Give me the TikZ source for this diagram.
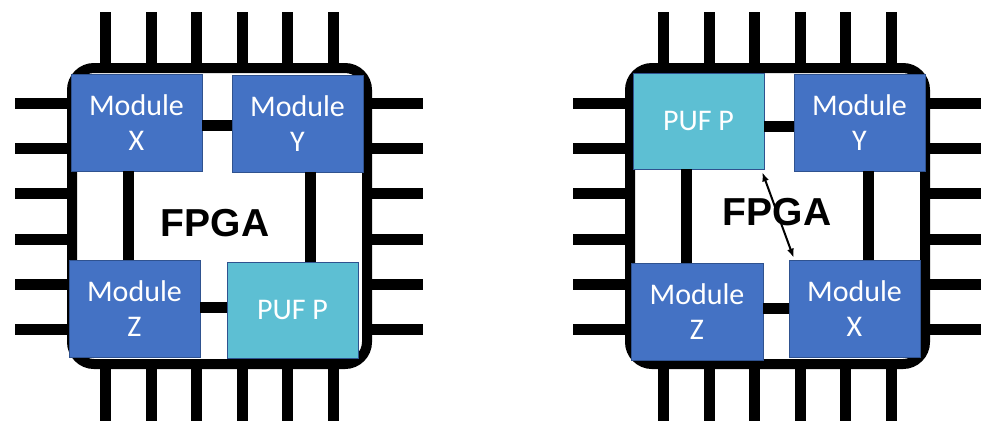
\documentclass[tikz,border=0pt]{standalone}
\usepackage{fontspec}
\newfontfamily\modfont{Carlito}
\newfontfamily\titlefont{Liberation Sans}
\usetikzlibrary{arrows.meta}
\definecolor{modblue}{HTML}{4472C4}
\definecolor{modedge}{HTML}{2F528F}
\definecolor{pufcyan}{HTML}{5DBFD3}
\begin{document}
\begin{tikzpicture}[x=1pt,y=-1pt,
  pin/.style={line width=11pt},
  chip/.style={line width=10pt, rounded corners=22pt, fill=white},
  wire/.style={line width=11pt},
  modbox/.style={draw=modedge, line width=0.8pt, fill=modblue, text=white,
    font=\modfont\fontsize{30}{35}\selectfont, align=center, inner sep=0pt,
    minimum width=131pt, minimum height=97pt},
  pufbox/.style={modbox, fill=pufcyan},
  title/.style={font=\titlefont\bfseries\fontsize{39}{39}\selectfont},
  link/.style={line width=2pt, {Latex[length=9pt,width=7pt]}-{Latex[length=9pt,width=7pt]}}]
\useasboundingbox (0,0) rectangle (982,421);
% pins and chip bodies
\foreach \o in {0,558} {
  \foreach \p in {105,151,196,242,287,333} {
    \draw[pin] (\p+\o,12) -- (\p+\o,421);
  }
  \foreach \q in {103.5,148.5,193.5,239.5,284.5,329.5} {
    \draw[pin] (15+\o,\q) -- (423+\o,\q);
  }
  \draw[chip] (72+\o,68) rectangle (367+\o,364);
}
% titles
\node[title] (fpgaL) at (215,223) {FPGA};
\node[title] (fpgaR) at (777,212) {FPGA};
% left chip modules
\node[modbox] (LX) at (136.5,122.5) {Module\\X};
\node[modbox] (LY) at (297.5,123.5) {Module\\Y};
\node[modbox] (LZ) at (134.5,308.5) {Module\\Z};
\node[pufbox, minimum height=96pt] (LP) at (292.5,310) {PUF P};
% right chip modules
\node[pufbox, minimum height=96pt] (RP) at (698.5,121) {PUF P};
\node[modbox] (RY) at (859.5,122.5) {Module\\Y};
\node[modbox, minimum width=132pt] (RZ) at (697,311.5) {Module\\Z};
\node[modbox] (RX) at (854.5,308.5) {Module\\X};
% wire guide coordinates
\coordinate (lh1) at (0,125);
\coordinate (lh2) at (0,307);
\coordinate (lv1) at (128,0);
\coordinate (lv2) at (310,0);
\coordinate (rh1) at (0,126);
\coordinate (rh2) at (0,308);
\coordinate (rv1) at (686,0);
\coordinate (rv2) at (868,0);
% left wires
\draw[wire] (LX.east |- lh1) -- (LY.west |- lh1);
\draw[wire] (LZ.east |- lh2) -- (LP.west |- lh2);
\draw[wire] (LX.south -| lv1) -- (LZ.north -| lv1);
\draw[wire] (LY.south -| lv2) -- (LP.north -| lv2);
% right wires
\draw[wire] (RP.east |- rh1) -- (RY.west |- rh1);
\draw[wire] (RZ.east |- rh2) -- (RX.west |- rh2);
\draw[wire] (RP.south -| rv1) -- (RZ.north -| rv1);
\draw[wire] (RY.south -| rv2) -- (RX.north -| rv2);
% swap arrow
\draw[link] ([xshift=-2pt,yshift=-3pt]RP.south east) -- ([xshift=5pt,yshift=2pt]RX.north west);
\end{tikzpicture}
\end{document}
